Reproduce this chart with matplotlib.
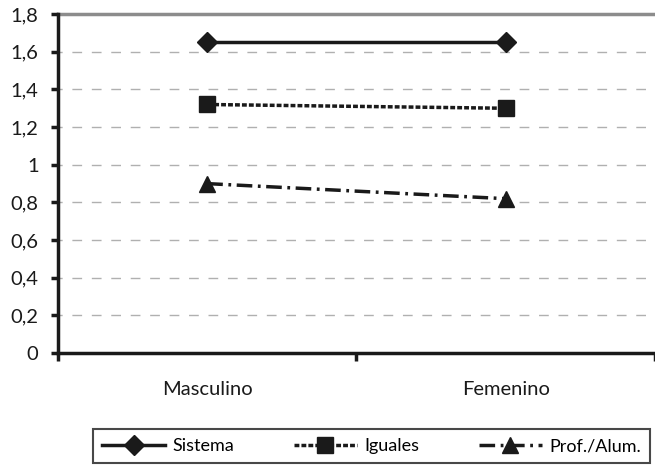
import matplotlib
matplotlib.use('Agg')
import matplotlib.pyplot as plt
from matplotlib.ticker import FuncFormatter, FixedLocator

plt.rcParams['font.family'] = ['Lato', 'DejaVu Sans']

# Datos
categorias = ['Masculino', 'Femenino']
sistema = [1.65, 1.65]
iguales = [1.32, 1.30]
prof_alum = [0.90, 0.82]

fig = plt.figure(figsize=(6.55, 4.69), dpi=100)
ax = fig.add_axes([0.0885, 0.247, 0.9115, 0.723])

x = list(range(len(categorias)))
ax.plot(x, sistema, color='#1a1a1a', lw=2.5, ls='-', marker='D', ms=10,
        label='Sistema')
ax.plot(x, iguales, color='#1a1a1a', lw=2.5, ls=(0, (1.4, 0.6)), marker='s', ms=11,
        label='Iguales')
ax.plot(x, prof_alum, color='#1a1a1a', lw=2.5, ls=(0, (4.5, 1.6, 0.8, 1.6)), marker='^', ms=12,
        label='Prof./Alum.')

ax.set_xlim(-0.5, 1.5)
ax.set_ylim(0, 1.8)
ax.set_yticks([0, 0.2, 0.4, 0.6, 0.8, 1.0, 1.2, 1.4, 1.6, 1.8])
ax.yaxis.set_major_formatter(FuncFormatter(
    lambda v, p: ('%g' % round(v, 1)).replace('.', ',')))

ax.set_xticks(x)
ax.set_xticklabels(categorias, fontsize=14.5, color='#1a1a1a')
ax.tick_params(axis='x', which='major', length=0, pad=20)
ax.xaxis.set_minor_locator(FixedLocator([-0.5, 0.5, 1.5]))
ax.tick_params(axis='x', which='minor', length=6, width=2.5, color='#1a1a1a')
ax.tick_params(axis='y', length=5, width=2.5, color='#1a1a1a', labelsize=14.5,
               labelcolor='#1a1a1a', pad=9)

# Líneas de cuadrícula
for v in [0.2, 0.4, 0.6, 0.8, 1.0, 1.2, 1.4, 1.6]:
    ax.axhline(v, color='#b0b0b0', lw=1, ls=(4, (7, 7)), zorder=0)
ax.axhline(1.8, color='#8c8c8c', lw=2.5, zorder=0, clip_on=False)

for s in ['top', 'right']:
    ax.spines[s].set_visible(False)
ax.spines['left'].set_linewidth(2.5)
ax.spines['bottom'].set_linewidth(2.5)
ax.spines['left'].set_color('#1a1a1a')
ax.spines['bottom'].set_color('#1a1a1a')

leg = fig.legend(loc='center', bbox_to_anchor=(0.567, 0.049), ncol=3, fontsize=13,
                 frameon=True, fancybox=False, edgecolor='#1a1a1a',
                 handlelength=3.5, columnspacing=3.3, handletextpad=0.4,
                 borderpad=0.5, borderaxespad=0)
leg.get_frame().set_linewidth(1.5)

fig.savefig('out.png', dpi=100)
